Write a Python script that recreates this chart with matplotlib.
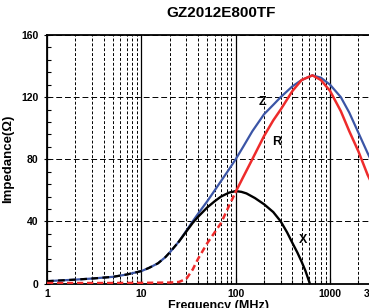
import numpy as np
import matplotlib
matplotlib.use('Agg')
import matplotlib.pyplot as plt
from matplotlib.ticker import FixedLocator, NullFormatter, MultipleLocator

plt.rcParams['font.family'] = ['Liberation Sans', 'DejaVu Sans']
plt.rcParams['font.weight'] = 'bold'

# ====== 数据 ======
f_z = [1, 2, 3, 5, 7, 10, 12, 15, 18, 20, 25, 30, 35, 40, 50, 60, 70, 85, 100, 120,
       150, 200, 250, 300, 400, 500, 650, 800, 1000, 1300, 1600, 2000, 2500, 3000]
z_vals = [1.5, 2.5, 3.2, 4.3, 5.8, 8, 10, 13, 17, 20, 27, 34, 40, 45, 53, 60, 66, 73.5, 80, 88,
          98, 109, 115, 120, 127, 131, 134, 132.5, 128, 120, 110, 97, 84, 74]

f_r = [1, 5, 10, 20, 25, 30, 35, 40, 50, 60, 70, 85, 100, 120, 150, 200, 250, 300, 400,
       500, 650, 800, 1000, 1300, 1600, 2000, 2500, 3000]
r_vals = [0.3, 0.3, 0.4, 0.6, 1, 3, 9, 16, 26, 33, 39, 50, 59, 68.5, 80, 95, 105, 112, 124,
          131, 134, 131, 124, 111, 98, 85, 70, 60]

f_x = [1, 2, 3, 5, 7, 10, 12, 15, 18, 20, 25, 30, 35, 40, 50, 60, 70, 85, 100, 115, 130,
       160, 200, 250, 300, 350, 400, 450, 500, 550, 610]
x_vals = [1.5, 2.5, 3.2, 4.3, 5.8, 8, 10, 13, 17, 20, 27, 33.5, 39, 43, 49, 53, 56, 58.5,
          59.5, 59, 58, 55, 51, 46, 40, 33, 26, 20, 14, 8, 0]

r_dash_end = 100   # R 虚线段终点
x_dash_end = 25    # X 虚线段终点

x_ticks = [1, 10, 100, 1000, 3000]
x_ticklabels = ['1', '10', '100', '1000', '3000']
y_ticks = [0, 40, 80, 120, 160]

# ====== 画图 ======
fig = plt.figure(figsize=(3.69, 3.08), dpi=100)
ax = fig.add_axes([0.1274, 0.0795, 0.889, 0.807])
ax.set_xscale('log')
ax.set_xlim(1, 3000)
ax.set_ylim(0, 160)

blue = '#3b55a6'
red = '#ee2b2b'

ax.plot(f_z, z_vals, color=blue, lw=1.6, zorder=3)

fx = np.array(f_x); xv = np.array(x_vals)
m = fx <= x_dash_end
ax.plot(fx[m], xv[m], color='k', lw=1.6, ls=(0, (3, 2)), zorder=4)
ax.plot(fx[fx >= x_dash_end], xv[fx >= x_dash_end], color='k', lw=1.7, zorder=4)

fr = np.array(f_r); rv = np.array(r_vals)
m = fr <= r_dash_end
ax.plot(fr[m], rv[m], color=red, lw=1.8, ls=(0, (2.5, 1.5)), zorder=5)
ax.plot(fr[fr >= r_dash_end], rv[fr >= r_dash_end], color=red, lw=1.8, zorder=5)

# 网格
ax.xaxis.set_major_locator(FixedLocator(x_ticks))
ax.set_xticklabels(x_ticklabels)
minors = [k * 10**d for d in range(0, 4) for k in range(2, 10) if k * 10**d < 3000]
ax.xaxis.set_minor_locator(FixedLocator(minors))
ax.xaxis.set_minor_formatter(NullFormatter())
ax.yaxis.set_major_locator(FixedLocator(y_ticks))
ax.yaxis.set_minor_locator(MultipleLocator(8))

ax.grid(True, which='minor', axis='x', color='k', lw=0.7, ls=(0, (3, 2)))
ax.grid(True, which='major', axis='x', color='k', lw=0.9, ls='-')
ax.grid(True, which='major', axis='y', color='k', lw=0.7, ls=(0, (6, 3)))

ax.tick_params(axis='both', which='both', labelsize=7.5, direction='in', width=0.8)
ax.tick_params(axis='y', which='major', direction='inout', length=5)
ax.tick_params(axis='y', which='minor', length=3)
ax.tick_params(axis='x', which='major', length=4, pad=4)
ax.tick_params(axis='x', which='minor', length=3)
for lab in ax.get_xticklabels() + ax.get_yticklabels():
    lab.set_fontweight('bold')

for s in ax.spines.values():
    s.set_linewidth(1.3)

ax.set_ylabel('Impedance(Ω)', fontsize=9.5, fontweight='bold', labelpad=5)
ax.set_xlabel('Frequency (MHz)', fontsize=9, fontweight='bold', labelpad=2)
ax.xaxis.set_label_coords((218 - 47) / (0.889 * 369), -0.065)

# 曲线标注
ax.text(192, 117, 'Z', fontsize=9, fontweight='bold', ha='center', va='center')
ax.text(272, 91, 'R', fontsize=9, fontweight='bold', ha='center', va='center')
ax.text(515, 28, 'X', fontsize=9, fontweight='bold', ha='center', va='center')

fig.text(221 / 369, 1 - 13 / 308, 'GZ2012E800TF', fontsize=11, fontweight='bold',
         ha='center', va='center')

plt.savefig('out.png', dpi=100)
plt.close()
